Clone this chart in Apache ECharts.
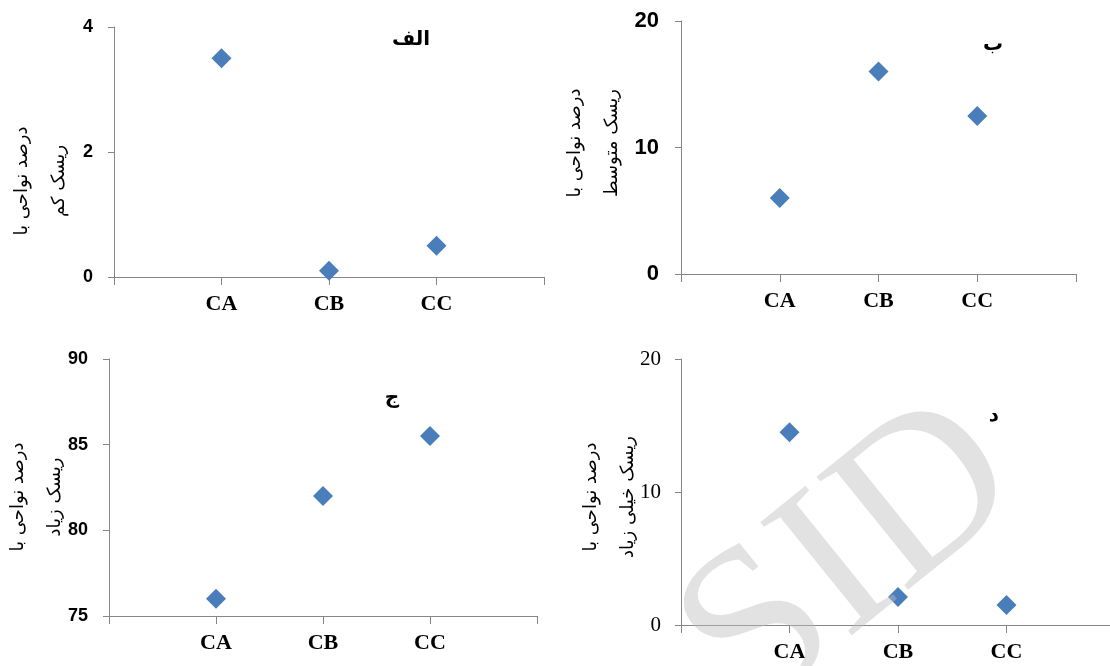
<!DOCTYPE html>
<html>
<head>
<meta charset="utf-8">
<script src="https://cdn.jsdelivr.net/npm/echarts@6/dist/echarts.min.js"></script>
<style>
html,body{margin:0;padding:0;background:#fff;}
#chart{width:1110px;height:666px;}
</style>
</head>
<body>
<div id="chart"></div>
<script>
const categories = ['CA', 'CB', 'CC'];
const lowRisk = [3.5, 0.1, 0.5];
const mediumRisk = [6, 16, 12.5];
const highRisk = [76, 82, 85.5];
const veryHighRisk = [14.5, 2.1, 1.5];
const panelTitles = ['الف', 'ب', 'ج', 'د'];
const yNames = [
  'درصد نواحی با\nریسک کم',
  'درصد نواحی با\nریسک متوسط',
  'درصد نواحی با\nریسک زیاد',
  'درصد نواحی با\nریسک خیلی زیاد'
];
const yRanges = [[0, 4, 2], [0, 20, 10], [75, 90, 5], [0, 20, 10]];

const chart = echarts.init(document.getElementById('chart'));
const axisColor = '#868686';
const blue = '#4a7ebb';

const grids = [
  {left: 114, top: 27, width: 430, height: 250},
  {left: 681, top: 21, width: 395, height: 253},
  {left: 109, top: 359, width: 428, height: 257},
  {left: 681, top: 359, width: 434, height: 266}
].map(g => Object.assign({containLabel: false, outerBoundsMode: 'none'}, g));
const xCats = ['', ...categories, ''];
const yLabelFont = [
  {fontFamily: 'Liberation Sans', fontWeight: 'bold', fontSize: 18, margin: 21},
  {fontFamily: 'Liberation Sans', fontWeight: 'bold', fontSize: 22, margin: 22},
  {fontFamily: 'Liberation Sans', fontWeight: 'bold', fontSize: 18, margin: 21},
  {fontFamily: 'Liberation Serif', fontWeight: 'normal', fontSize: 21, margin: 20}
];
const namePos = [[41, 181], [594, 143], [37, 497], [610, 497]];
const titlePos = [[406, 35], [988, 40], [387, 393], [989, 411]];
const seriesVals = [lowRisk, mediumRisk, highRisk, veryHighRisk];

const option = {
  animation: false,
  backgroundColor: '#fff',
  title: panelTitles.map((t, i) => ({
    text: t,
    left: titlePos[i][0], top: titlePos[i][1],
    textAlign: 'center', textVerticalAlign: 'middle',
    textStyle: {fontFamily: 'DejaVu Sans', fontWeight: 'bold', fontSize: 20, color: '#000'}
  })),
  grid: grids,
  xAxis: grids.map((g, i) => ({
    type: 'category', gridIndex: i, data: xCats, boundaryGap: false,
    axisLine: {lineStyle: {color: axisColor, width: 1}},
    axisTick: {show: true, interval: 0, length: 8, lineStyle: {color: axisColor}},
    axisLabel: {interval: 0, margin: 16, fontFamily: 'Liberation Serif', fontWeight: 'bold', fontSize: 22, color: '#000'},
    splitLine: {show: false}
  })),
  yAxis: grids.map((g, i) => ({
    type: 'value', gridIndex: i,
    min: yRanges[i][0], max: yRanges[i][1], interval: yRanges[i][2],
    axisLine: {show: true, lineStyle: {color: axisColor, width: 1}},
    axisTick: {show: true, length: 6, lineStyle: {color: axisColor}},
    axisLabel: Object.assign({color: '#000'}, yLabelFont[i]),
    splitLine: {show: false}
  })),
  graphic: yNames.map((n, i) => ({
    type: 'text',
    x: namePos[i][0], y: namePos[i][1],
    rotation: Math.PI / 2,
    silent: true,
    style: {
      text: n,
      fontFamily: 'DejaVu Sans',
      fontSize: 18,
      lineHeight: 37,
      fill: '#000',
      align: 'center',
      verticalAlign: 'middle'
    }
  })).concat([{
    type: 'text',
    x: 852, y: 560,
    rotation: 0.68,
    z: 100,
    silent: true,
    style: {
      text: 'SID',
      fontFamily: 'Liberation Serif',
      fontSize: 222,
      fill: 'rgba(190,190,190,0.45)',
      align: 'center',
      verticalAlign: 'middle'
    }
  }]),
  series: seriesVals.map((vals, i) => ({
    type: 'scatter', xAxisIndex: i, yAxisIndex: i,
    symbol: 'diamond', symbolSize: [20, 20],
    itemStyle: {color: blue, opacity: 1},
    data: categories.map((c, k) => [c, vals[k]])
  }))
};
chart.setOption(option);
</script>
</body>
</html>
